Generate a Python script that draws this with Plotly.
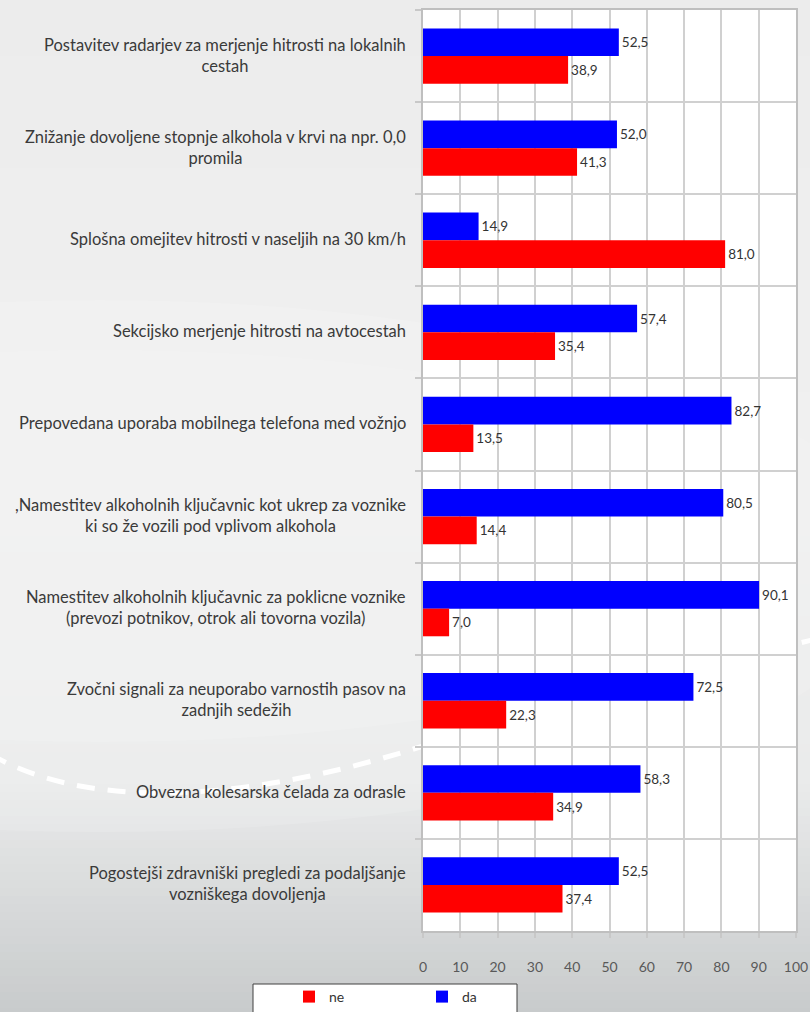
import plotly.graph_objects as go

categories = [
    "Postavitev radarjev za merjenje hitrosti na lokalnih<br>cestah",
    "Znižanje dovoljene stopnje alkohola v krvi na npr. 0,0<br>promila",
    "Splošna omejitev hitrosti v naseljih na 30 km/h",
    "Sekcijsko merjenje hitrosti na avtocestah",
    "Prepovedana uporaba mobilnega telefona med vožnjo",
    ",Namestitev alkoholnih ključavnic kot ukrep za voznike<br>ki so že vozili pod vplivom alkohola",
    "Namestitev alkoholnih ključavnic za poklicne voznike<br>(prevozi potnikov, otrok ali tovorna vozila)",
    "Zvočni signali za neuporabo varnostih pasov na<br>zadnjih sedežih",
    "Obvezna kolesarska čelada za odrasle",
    "Pogostejši zdravniški pregledi za podaljšanje<br>vozniškega dovoljenja",
]
da_values = [52.5, 52.0, 14.9, 57.4, 82.7, 80.5, 90.1, 72.5, 58.3, 52.5]
ne_values = [38.9, 41.3, 81.0, 35.4, 13.5, 14.4, 7.0, 22.3, 34.9, 37.4]
series_names = ["da", "ne"]
x_ticks = [0, 10, 20, 30, 40, 50, 60, 70, 80, 90, 100]

W, H = 810, 1012
L, R, T, B = 423, 796, 10, 931
FONT = "Lato"


def px(x):
    return (x - L) / (R - L)


def py(y):
    return (B - y) / (B - T)


fig = go.Figure()
fig.add_trace(go.Bar(
    y=categories, x=da_values, name=series_names[0], orientation="h",
    marker=dict(color="#0000FF", line=dict(width=0)),
    texttemplate="%{x:.1f}", textposition="outside", cliponaxis=False,
    textfont=dict(family=FONT, size=13.5, color="#333333"),
))
fig.add_trace(go.Bar(
    y=categories, x=ne_values, name=series_names[1], orientation="h",
    marker=dict(color="#FF0000", line=dict(width=0)),
    texttemplate="%{x:.1f}", textposition="outside", cliponaxis=False,
    textfont=dict(family=FONT, size=13.5, color="#333333"),
))

shapes = []
# background gradient bands
stops = [(0, (236, 236, 236)), (450, (240, 240, 240)), (780, (234, 235, 235)), (1012, (200, 203, 204))]


def color_at(y):
    for (y0, c0), (y1, c1) in zip(stops[:-1], stops[1:]):
        if y0 <= y <= y1:
            t = (y - y0) / (y1 - y0)
            return tuple(round(a + (b - a) * t) for a, b in zip(c0, c1))
    return stops[-1][1]


step = 8
for yb in range(0, H, step):
    c = color_at(yb + step / 2)
    shapes.append(dict(type="rect", xref="paper", yref="paper", layer="below",
                       x0=px(-5), x1=px(W + 5), y0=py(yb), y1=py(yb + step + 1),
                       line=dict(width=0), fillcolor="rgb(%d,%d,%d)" % c))
# soft light swooshes
shapes.append(dict(type="circle", xref="paper", yref="paper", layer="below",
                   x0=px(-700), x1=px(900), y0=py(832), y1=py(300),
                   line=dict(width=0), fillcolor="rgba(255,255,255,0.12)"))
shapes.append(dict(type="circle", xref="paper", yref="paper", layer="below",
                   x0=px(-600), x1=px(800), y0=py(742), y1=py(350),
                   line=dict(width=0), fillcolor="rgba(255,255,255,0.12)"))
# dashed white road line
pts = [(-10, 754), (80, 807), (230, 807), (420, 747)]
pts2 = [(600, 695), (750, 655), (820, 638)]
path = "M %f,%f C %f,%f %f,%f %f,%f C %f,%f %f,%f %f,%f" % (
    px(pts[0][0]), py(pts[0][1]), px(pts[1][0]), py(pts[1][1]), px(pts[2][0]), py(pts[2][1]),
    px(pts[3][0]), py(pts[3][1]), px(pts2[0][0]), py(pts2[0][1]), px(pts2[1][0]), py(pts2[1][1]),
    px(pts2[2][0]), py(pts2[2][1]))
shapes.append(dict(type="path", xref="paper", yref="paper", layer="below", path=path,
                   line=dict(color="white", width=5, dash="18px,13px")))
# white plot area
shapes.append(dict(type="rect", xref="paper", yref="paper", layer="below",
                   x0=0, x1=1, y0=0, y1=1, line=dict(width=0), fillcolor="white"))
# legend box
shapes.append(dict(type="rect", xref="paper", yref="paper", layer="above",
                   x0=px(253), x1=px(517), y0=py(984), y1=py(1030),
                   line=dict(color="#404040", width=1), fillcolor="white"))

annotations = []
for c in categories:
    annotations.append(dict(
        text=c, xref="paper", yref="y", x=0, y=c, xanchor="right", yanchor="middle",
        xshift=-15, yshift=1, align="center", showarrow=False,
        font=dict(family=FONT, size=16.5, color="#3a3a3a"),
    ))

fig.update_layout(
    width=W, height=H,
    margin=dict(l=L, r=W - R, t=T, b=H - B, autoexpand=False),
    paper_bgcolor="#e6e6e6", plot_bgcolor="rgba(0,0,0,0)",
    barmode="group", bargap=0.4, bargroupgap=0,
    separators=", ",
    showlegend=True,
    legend=dict(orientation="h", xref="container", yref="container",
                x=289 / W, xanchor="left", y=1 - 997 / H, yanchor="middle",
                traceorder="reversed", bgcolor="rgba(0,0,0,0)", borderwidth=0,
                entrywidth=88, entrywidthmode="pixels",
                font=dict(family=FONT, size=14, color="#333333")),
    shapes=shapes,
    annotations=annotations,
    xaxis=dict(range=[0, 100], tickvals=x_ticks, showgrid=True, gridcolor="#d0d0d0", gridwidth=1.5,
               ticks="outside", ticklen=5, tickcolor="#c8c8c8", tickwidth=1.5,
               showline=True, linecolor="#bfbfbf", linewidth=1.5, mirror=True,
               zeroline=False, ticklabelstandoff=17, automargin=False,
               tickfont=dict(family=FONT, size=14, color="#595959")),
    yaxis=dict(autorange="reversed", type="category", tickson="boundaries",
               showgrid=True, gridcolor="#d0d0d0", gridwidth=1.5,
               ticks="outside", ticklen=6, tickcolor="#c8c8c8", tickwidth=1.5,
               showline=True, linecolor="#bfbfbf", linewidth=1.5, mirror=True,
               showticklabels=False, automargin=False),
)

fig.write_html("out.html", config={"displayModeBar": False},
               post_script="document.body.style.margin='0px';document.body.style.overflow='hidden';")
